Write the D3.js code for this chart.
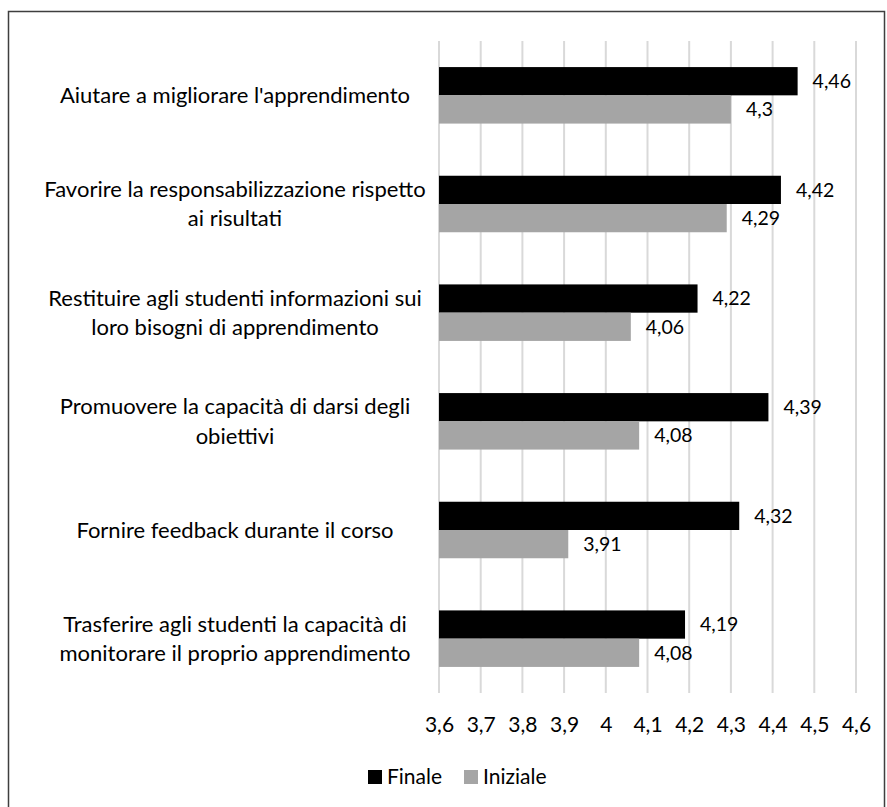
<!DOCTYPE html>
<html>
<head>
<meta charset="utf-8">
<script src="https://cdn.jsdelivr.net/npm/d3@7"></script>
<style>
  html, body { margin: 0; padding: 0; background: #fff; }
  svg { display: block; font-family: Lato, "Noto Sans", sans-serif; }
</style>
</head>
<body>
<svg id="chart" width="887" height="807"></svg>
<script>
// Category labels, one entry per line as shown on the axis
const categories = [
  ["Aiutare a migliorare l'apprendimento"],
  ["Favorire la responsabilizzazione rispetto", "ai risultati"],
  ["Restituire agli studenti informazioni sui", "loro bisogni di apprendimento"],
  ["Promuovere la capacità di darsi degli", "obiettivi"],
  ["Fornire feedback durante il corso"],
  ["Trasferire agli studenti la capacità di", "monitorare il proprio apprendimento"]
];
const seriesNames = ["Finale", "Iniziale"];
const finale   = [4.46, 4.42, 4.22, 4.39, 4.32, 4.19];
const iniziale = [4.30, 4.29, 4.06, 4.08, 3.91, 4.08];
const tickValues = [3.6, 3.7, 3.8, 3.9, 4.0, 4.1, 4.2, 4.3, 4.4, 4.5, 4.6];
const colors = { Finale: "#000000", Iniziale: "#a5a5a5" };

const fmt = v => String(+v.toFixed(2)).replace(".", ",");

const svg = d3.select("#chart");

// outer frame (bottom edge falls outside the page)
svg.append("rect")
  .attr("x", 8.5).attr("y", 11.5)
  .attr("width", 876).attr("height", 820)
  .attr("fill", "none").attr("stroke", "#3f3f3f").attr("stroke-width", 1.5);

const keys = categories.map((c, i) => i);
const x = d3.scaleLinear().domain([3.6, 4.6]).range([439, 856]);
const y0 = d3.scaleBand().domain(keys).range([41, 693]).paddingInner(0.48).paddingOuter(0.24);
const y1 = d3.scaleBand().domain(seriesNames).range([0, y0.bandwidth()]);

// vertical gridlines
svg.append("g").selectAll("line")
  .data(tickValues).join("line")
  .attr("x1", d => x(d)).attr("x2", d => x(d))
  .attr("y1", 41).attr("y2", 693)
  .attr("stroke", "#d9d9d9").attr("stroke-width", 2);

// bars
const rows = keys.map(i => ({ i, vals: [
  { s: "Finale", v: finale[i] },
  { s: "Iniziale", v: iniziale[i] }
]}));

const grp = svg.append("g").selectAll("g")
  .data(rows).join("g")
  .attr("transform", d => `translate(0,${y0(d.i)})`);

grp.selectAll("rect")
  .data(d => d.vals).join("rect")
  .attr("x", x(3.6))
  .attr("y", d => y1(d.s))
  .attr("width", d => x(d.v) - x(3.6))
  .attr("height", y1.bandwidth())
  .attr("fill", d => colors[d.s]);

grp.selectAll("text")
  .data(d => d.vals).join("text")
  .attr("x", d => x(d.v) + 15)
  .attr("y", d => y1(d.s) + y1.bandwidth() / 2)
  .attr("dy", "0.35em")
  .attr("font-size", 19.5)
  .attr("fill", "#000")
  .text(d => fmt(d.v));

// category labels
const lineH = 29.5;
svg.append("g").selectAll("text")
  .data(rows).join("text")
  .attr("text-anchor", "middle")
  .attr("font-size", 22)
  .attr("fill", "#000")
  .each(function(d) {
    const lines = categories[d.i];
    const cy = y0(d.i) + y0.bandwidth() / 2;
    const t = d3.select(this);
    lines.forEach((ln, k) => {
      t.append("tspan")
        .attr("x", 235)
        .attr("y", cy + (k - (lines.length - 1) / 2) * lineH)
        .attr("dy", "0.35em")
        .text(ln);
    });
  });

// x axis tick labels
const xAxis = d3.axisBottom(x).tickValues(tickValues).tickSize(0).tickPadding(0).tickFormat(fmt);
const ax = svg.append("g").attr("transform", "translate(0,717)").call(xAxis);
ax.select(".domain").remove();
ax.selectAll("text").attr("font-size", 21).attr("fill", "#000")
  .attr("font-family", "Lato, sans-serif").attr("dy", "0.72em");

// legend
const legend = svg.append("g").attr("transform", "translate(0,777)");
const legX = [368, 464];
seriesNames.forEach((s, k) => {
  legend.append("rect")
    .attr("x", legX[k]).attr("y", -7)
    .attr("width", 14).attr("height", 14)
    .attr("fill", colors[s]);
  legend.append("text")
    .attr("x", legX[k] + 19).attr("y", 0)
    .attr("dy", "0.35em")
    .attr("font-size", 21)
    .text(s);
});
</script>
</body>
</html>
